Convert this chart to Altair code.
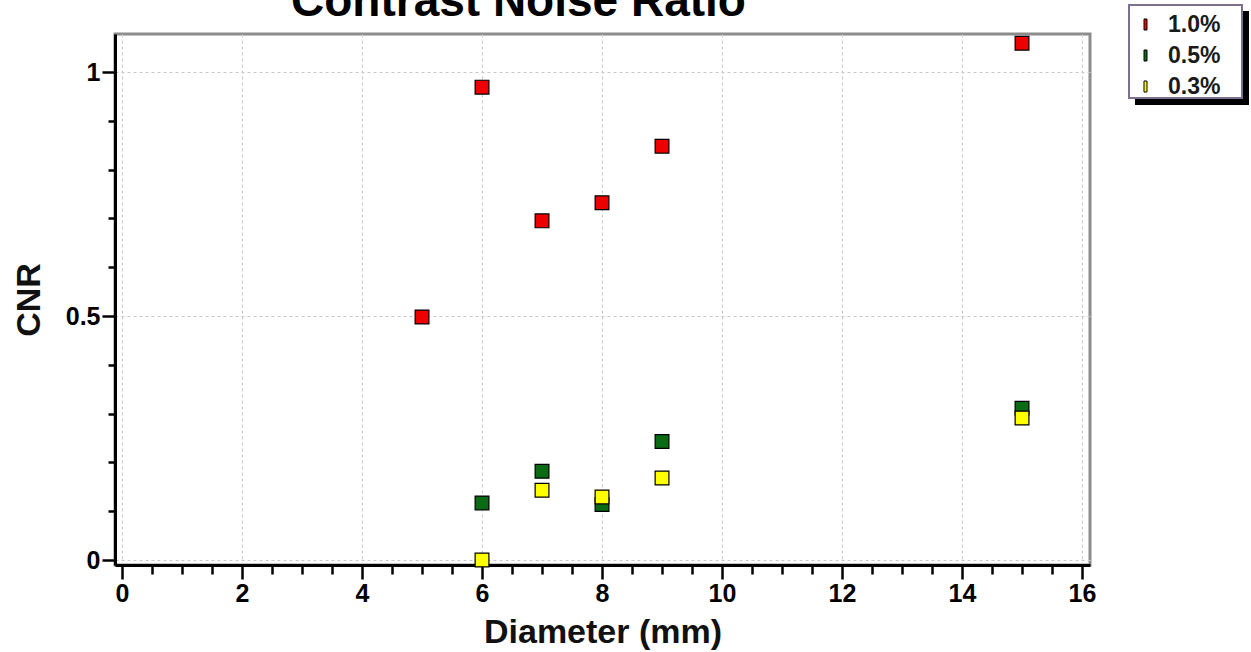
import altair as alt
import pandas as pd

# Measured CNR values per insert diameter (mm) for each contrast concentration
diameters = [5, 6, 7, 8, 9, 15]
cnr_1_0 = [0.498, 0.969, 0.695, 0.732, 0.848, 1.059]
cnr_0_5 = [None, 0.117, 0.182, 0.114, 0.243, 0.311]
cnr_0_3 = [None, 0.0, 0.143, 0.129, 0.168, 0.291]

series_labels = ["1.0%", "0.5%", "0.3%"]
series_colors = ["#ee0000", "#0b6a14", "#ffff00"]

chart_title = "Contrast Noise Ratio"

# Tick positions: major/minor ticks on both axes
x_ticks = [i * 0.5 for i in range(33)]
y_ticks = [round(i * 0.1, 1) for i in range(11)]

rows = []
for label, values in zip(series_labels, [cnr_1_0, cnr_0_5, cnr_0_3]):
    for d, v in zip(diameters, values):
        if v is not None:
            rows.append({"Diameter": d, "CNR": v, "Concentration": label})
df = pd.DataFrame(rows)

W, H = 975, 531
FONT = "Liberation Sans"

x_major = "datum.value % 2 == 0"
y_major = "abs(datum.value * 2 - round(datum.value * 2)) < 0.001"

x_axis = alt.Axis(
    values=x_ticks,
    labelExpr=f"{x_major} ? format(datum.value, 'd') : ''",
    title="Diameter (mm)",
    grid=True,
    gridDash=[3, 3],
    gridColor="#c8c8c8",
    gridWidth=1,
    gridOpacity={"condition": {"test": x_major, "value": 1}, "value": 0},
    tickSize={"condition": {"test": x_major, "value": 14}, "value": 9},
    tickColor="black",
    tickWidth=2.5,
    domainColor="black",
    domainWidth=3,
    labelFont=FONT,
    labelFontSize=25,
    labelFontWeight="bold",
    labelColor="black",
    labelPadding=2,
    labelFlush=False,
    labelOverlap=False,
    titleFont=FONT,
    titleFontSize=34,
    titleFontWeight="bold",
    titleColor="#111111",
    titlePadding=9,
)

y_axis = alt.Axis(
    values=y_ticks,
    labelExpr=f"{y_major} ? format(datum.value, '~g') : ''",
    title="CNR",
    grid=True,
    gridDash=[3, 3],
    gridColor="#c8c8c8",
    gridWidth=1,
    gridOpacity={"condition": {"test": y_major, "value": 1}, "value": 0},
    tickSize={"condition": {"test": y_major, "value": 13}, "value": 7},
    tickColor="black",
    tickWidth=2.5,
    domainColor="black",
    domainWidth=3,
    labelFont=FONT,
    labelFontSize=25,
    labelFontWeight="bold",
    labelColor="black",
    labelPadding=2,
    labelFlush=False,
    labelOverlap=False,
    titleFont=FONT,
    titleFontSize=34,
    titleFontWeight="bold",
    titleColor="#111111",
    titlePadding=19,
)

legend = alt.Legend(
    title=None,
    orient="none",
    legendX=1019,
    legendY=-21,
    padding=0,
    symbolType="M-0.27,-1H0.27V1H-0.27Z",
    symbolSize=121,
    symbolStrokeColor="black",
    symbolStrokeWidth=1,
    labelOffset=11,
    rowPadding=7,
    labelFont=FONT,
    labelFontSize=23,
    labelFontWeight="bold",
    labelColor="#1a1a1a",
)

points = alt.Chart(df).mark_square(
    size=190, filled=True, opacity=1, stroke="black", strokeWidth=1.2
).encode(
    x=alt.X("Diameter:Q", scale=alt.Scale(domain=[-0.117, 16.133], nice=False, zero=False), axis=x_axis),
    y=alt.Y("CNR:Q", scale=alt.Scale(domain=[-0.0102, 1.0779], nice=False, zero=False), axis=y_axis),
    color=alt.Color(
        "Concentration:N",
        scale=alt.Scale(domain=series_labels, range=series_colors),
        legend=legend,
    ),
)

# Legend frame with its drop shadow
frame_data = alt.Data(values=[{}])
shadow = alt.Chart(frame_data).mark_rect(color="black").encode(
    x=alt.value(1020), x2=alt.value(1134), y=alt.value(-23), y2=alt.value(71)
)
frame = alt.Chart(frame_data).mark_rect(fill="white", stroke="#7d6f8e", strokeWidth=2).encode(
    x=alt.value(1014), x2=alt.value(1127), y=alt.value(-29), y2=alt.value(64)
)

title = alt.Chart(alt.Data(values=[{"t": chart_title}])).mark_text(
    align="left", baseline="alphabetic", font=FONT, fontSize=46, fontWeight="bold", color="black"
).encode(x=alt.value(176), y=alt.value(-18), text="t:N")

chart = alt.layer(shadow, frame, points, title).properties(
    width=W,
    height=H,
    autosize=alt.AutoSizeParams(type="none"),
    padding={"left": 115, "top": 34, "right": 161, "bottom": 87},
    background="white",
).configure_view(stroke="#8c8c8c", strokeWidth=3)

chart.save("out.html", embed_options={"renderer": "svg", "actions": False})
